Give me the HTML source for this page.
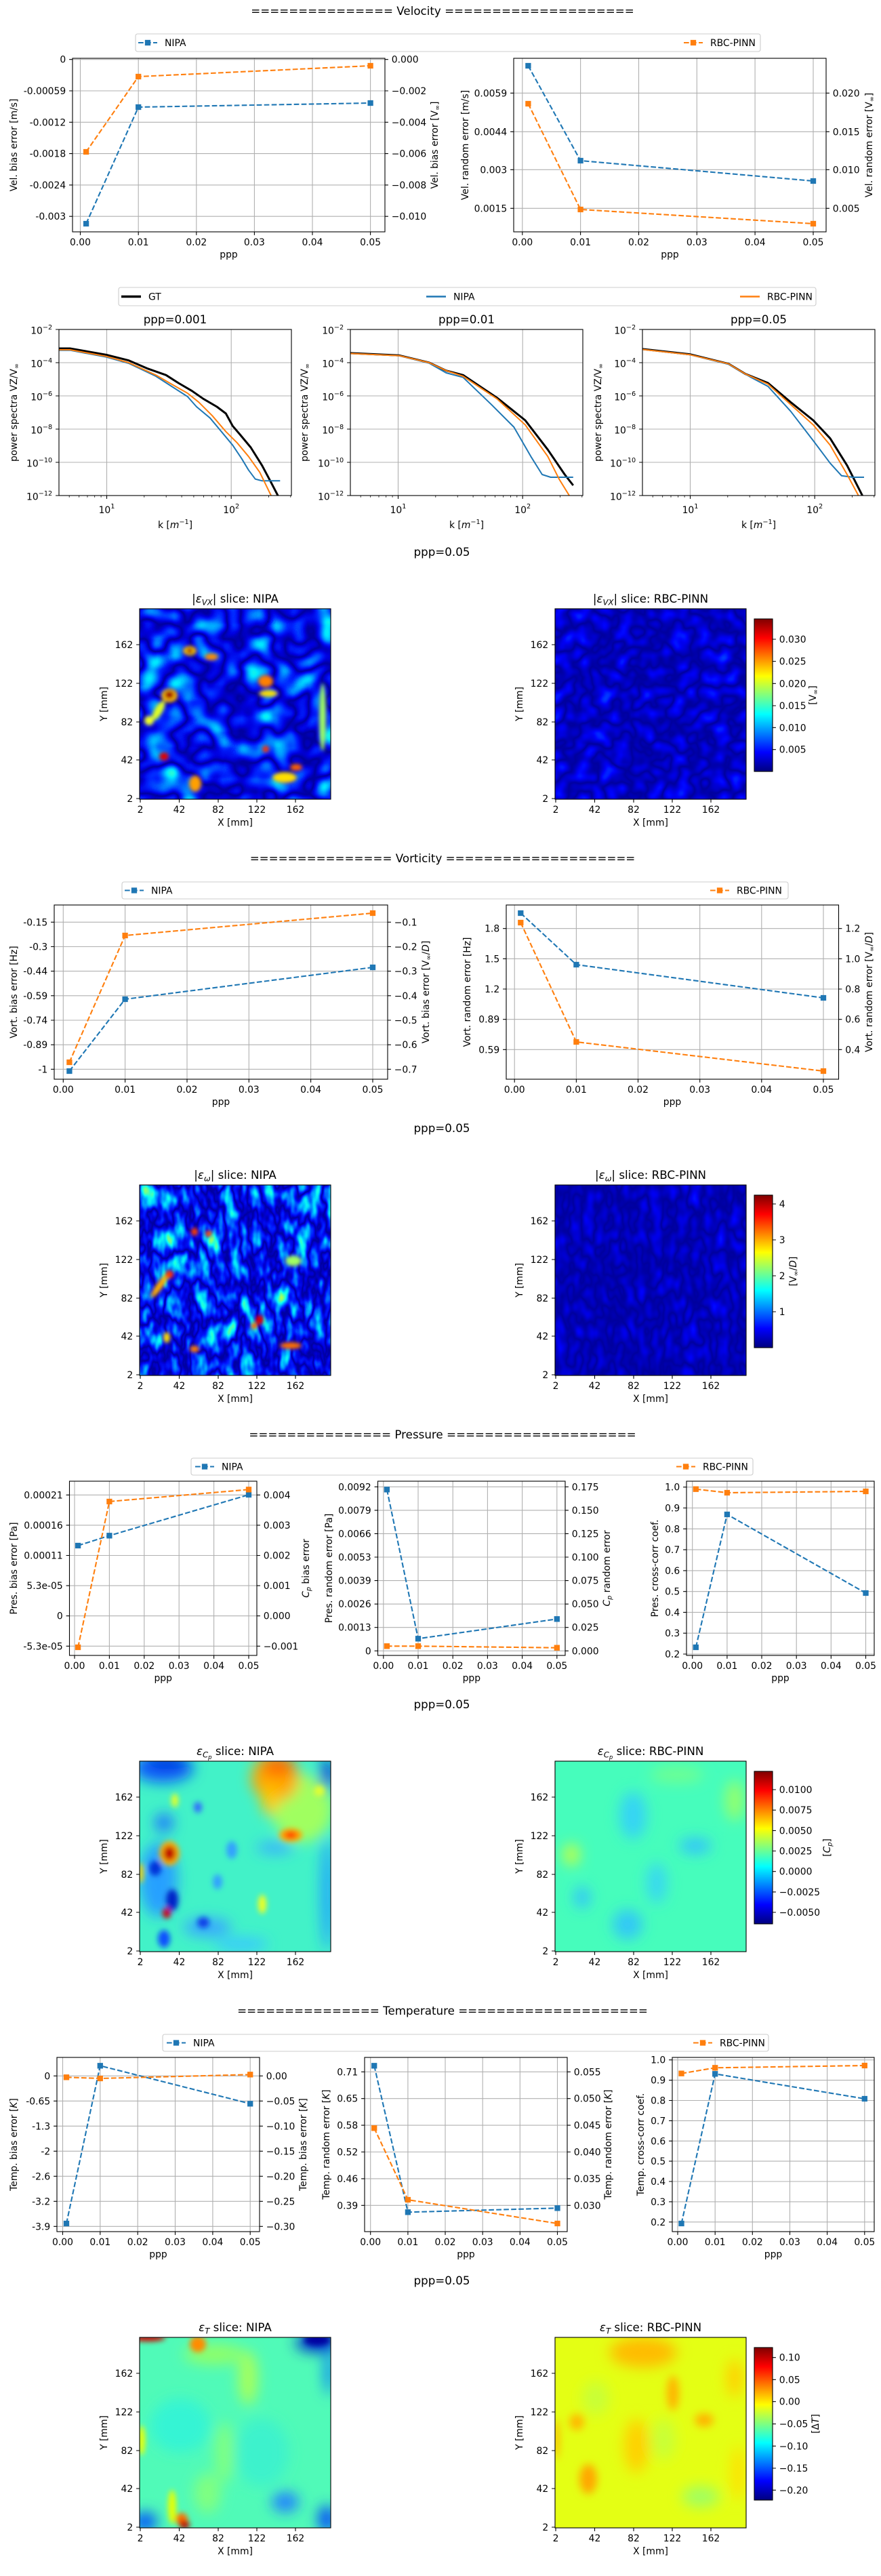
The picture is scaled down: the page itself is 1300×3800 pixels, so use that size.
<!DOCTYPE html>
<html><head><meta charset="utf-8"><title>Error analysis</title>
<style>
html,body{margin:0;padding:0;background:#fff;}
svg{display:block}
svg text{font-family:"DejaVu Sans","Liberation Sans",sans-serif;font-size:13.9px;fill:#000}
.tt{font-size:16.7px}
.g{stroke:#b0b0b0;stroke-width:1.1;fill:none}
.sp{stroke:#000;stroke-width:1.1;fill:none}
.tk{stroke:#000;stroke-width:1.1;fill:none}
.mt{stroke:#000;stroke-width:0.8;fill:none}
.lb{stroke:#1f77b4;stroke-width:2.1;fill:none;stroke-dasharray:7.7 3.3}
.lo{stroke:#ff7f0e;stroke-width:2.1;fill:none;stroke-dasharray:7.7 3.3}
.mb{fill:#1f77b4}
.mo{fill:#ff7f0e}
.lg{fill:#fff;fill-opacity:.8;stroke:#cccccc;stroke-width:1.1}
.e{text-anchor:end}
.m{text-anchor:middle}
.cgt{stroke:#000;stroke-width:3;fill:none;stroke-linejoin:round}
.cb{stroke:#1f77b4;stroke-width:2;fill:none;stroke-linejoin:round}
.co{stroke:#ff7f0e;stroke-width:2;fill:none;stroke-linejoin:round}
</style></head>
<body>
<svg width="1300" height="3800" viewBox="0 0 1300 3800" xmlns="http://www.w3.org/2000/svg">
<defs>
<linearGradient id="jet" x1="0" y1="1" x2="0" y2="0">
<stop offset="0" stop-color="#00007f"/><stop offset="0.125" stop-color="#0000ff"/><stop offset="0.375" stop-color="#00ffff"/><stop offset="0.625" stop-color="#ffff00"/><stop offset="0.875" stop-color="#ff0000"/><stop offset="1" stop-color="#7f0000"/>
</linearGradient>
<clipPath id="cps"><rect x="0" y="0" width="343" height="245"/></clipPath>
<filter id="b3" x="-50%" y="-50%" width="200%" height="200%"><feGaussianBlur stdDeviation="3"/></filter>
<filter id="b4" x="-50%" y="-50%" width="200%" height="200%"><feGaussianBlur stdDeviation="4"/></filter>
<filter id="b6" x="-50%" y="-50%" width="200%" height="200%"><feGaussianBlur stdDeviation="6"/></filter>
<filter id="b10" x="-50%" y="-50%" width="200%" height="200%"><feGaussianBlur stdDeviation="10"/></filter>
<filter id="fvn" x="0" y="0" width="1" height="1" color-interpolation-filters="sRGB">
<feTurbulence type="fractalNoise" baseFrequency="0.02 0.022" numOctaves="2" seed="7"/>
<feColorMatrix type="matrix" values="1 0 0 0 0 1 0 0 0 0 1 0 0 0 0 0 0 0 0 1"/>
<feComponentTransfer>
<feFuncR type="table" tableValues="1 .96 .7 .44 .18 0 0 0 0 0 0 0 0 0 0 0 .18 .44 .7 .96 1"/>
<feFuncG type="table" tableValues=".78 1 1 1 1 .92 .66 .4 .14 0 0 0 .14 .4 .66 .92 1 1 1 1 .78"/>
<feFuncB type="table" tableValues="0 .04 .3 .56 .82 1 1 1 1 .88 .62 .88 1 1 1 1 .82 .56 .3 .04 0"/>
</feComponentTransfer></filter>
<filter id="fvr" x="0" y="0" width="1" height="1" color-interpolation-filters="sRGB">
<feTurbulence type="fractalNoise" baseFrequency="0.035" numOctaves="2" seed="11"/>
<feColorMatrix type="matrix" values="1 0 0 0 0 1 0 0 0 0 1 0 0 0 0 0 0 0 0 1"/>
<feComponentTransfer>
<feFuncR type="table" tableValues="0 0"/>
<feFuncG type="table" tableValues=".42 .34 .26 .18 .1 .02 0 0 0 0 0 0 0 0 0 .02 .1 .18 .26 .34 .42"/>
<feFuncB type="table" tableValues="1 1 1 1 1 1 .94 .86 .78 .7 .62 .7 .78 .86 .94 1 1 1 1 1 1"/>
</feComponentTransfer></filter>
<filter id="fwn" x="0" y="0" width="1" height="1" color-interpolation-filters="sRGB">
<feTurbulence type="fractalNoise" baseFrequency="0.04 0.02" numOctaves="3" seed="5"/>
<feColorMatrix type="matrix" values="1 0 0 0 0 1 0 0 0 0 1 0 0 0 0 0 0 0 0 1"/>
<feComponentTransfer>
<feFuncR type="table" tableValues="1 .78 .54 .3 .06 0 0 0 0 0 0 0 0 0 0 0 .06 .3 .54 .78 1"/>
<feFuncG type="table" tableValues=".98 1 1 1 1 .82 .58 .34 .1 0 0 0 .1 .34 .58 .82 1 1 1 1 .98"/>
<feFuncB type="table" tableValues="0 .22 .46 .7 .94 1 1 1 1 .86 .62 .86 1 1 1 1 .94 .7 .46 .22 0"/>
</feComponentTransfer></filter>
<filter id="fwr" x="0" y="0" width="1" height="1" color-interpolation-filters="sRGB">
<feTurbulence type="fractalNoise" baseFrequency="0.05 0.03" numOctaves="2" seed="13"/>
<feColorMatrix type="matrix" values="1 0 0 0 0 1 0 0 0 0 1 0 0 0 0 0 0 0 0 1"/>
<feComponentTransfer>
<feFuncR type="table" tableValues="0 0"/>
<feFuncG type="table" tableValues=".22 .16 .1 .04 0 0 0 0 0 0 0 0 0 0 0 0 0 .04 .1 .16 .22"/>
<feFuncB type="table" tableValues="1 1 1 1 .98 .92 .86 .8 .74 .68 .62 .68 .74 .8 .86 .92 .98 1 1 1 1"/>
</feComponentTransfer></filter>
</defs>
<rect x="0" y="0" width="1300" height="3800" fill="#fff"/>

<!-- ================= VELOCITY ================= -->
<text class="tt m" x="653" y="22">=============== Velocity ====================</text>
<rect class="lg" x="200" y="50" width="922" height="26" rx="3"/>
<path class="lb" d="M204 63H232"/><path class="mb" d="M213.85 58.85h8.3v8.3h-8.3z"/><text x="243" y="68">NIPA</text>
<path class="lo" d="M1009 63H1037"/><path class="mo" d="M1018.85 58.85h8.3v8.3h-8.3z"/><text x="1048" y="68">RBC-PINN</text>

<!-- Vel A -->
<path class="g" d="M118.5 86V342M204.2 86V342M289.8 86V342M375.4 86V342M461 86V342M546.6 86V342M107 87.7H568M107 134H568M107 180.3H568M107 226.6H568M107 272.9H568M107 319.2H568"/>
<path class="lb" d="M127.1 330L204.2 158L546.6 152"/>
<path class="lo" d="M127.1 224L204.2 113L546.6 97"/>
<path class="mb" d="M122.95 325.85h8.3v8.3h-8.3zM200.05 153.85h8.3v8.3h-8.3zM542.45 147.85h8.3v8.3h-8.3z"/>
<path class="mo" d="M122.95 219.85h8.3v8.3h-8.3zM200.05 108.85h8.3v8.3h-8.3zM542.45 92.85h8.3v8.3h-8.3z"/>
<rect class="sp" x="107" y="86" width="461" height="256"/>
<path class="tk" d="M102.1 87.7H107M102.1 134H107M102.1 180.3H107M102.1 226.6H107M102.1 272.9H107M102.1 319.2H107M568 87.7H572.9M568 134H572.9M568 180.3H572.9M568 226.6H572.9M568 272.9H572.9M568 319.2H572.9M118.5 342V346.9M204.2 342V346.9M289.8 342V346.9M375.4 342V346.9M461 342V346.9M546.6 342V346.9"/>
<g class="e"><text x="97.2" y="92.7">0</text><text x="97.2" y="139">-0.00059</text><text x="97.2" y="185.3">-0.0012</text><text x="97.2" y="231.6">-0.0018</text><text x="97.2" y="277.9">-0.0024</text><text x="97.2" y="324.2">-0.003</text></g>
<g><text x="577.8" y="92.7">0.000</text><text x="577.8" y="139">−0.002</text><text x="577.8" y="185.3">−0.004</text><text x="577.8" y="231.6">−0.006</text><text x="577.8" y="277.9">−0.008</text><text x="577.8" y="324.2">−0.010</text></g>
<g class="m"><text x="118.5" y="362">0.00</text><text x="204.2" y="362">0.01</text><text x="289.8" y="362">0.02</text><text x="375.4" y="362">0.03</text><text x="461" y="362">0.04</text><text x="546.6" y="362">0.05</text><text x="337.5" y="380">ppp</text></g>
<text class="m" transform="translate(25 214) rotate(-90)">Vel. bias error [m/s]</text>
<text class="m" transform="translate(646 214) rotate(-90)">Vel. bias error [V<tspan font-size="9.7" dy="2.5">∞</tspan><tspan dy="-2.5">]</tspan></text>

<!-- Vel B -->
<path class="g" d="M770.8 86V342M856.6 86V342M942.5 86V342M1028.3 86V342M1114.1 86V342M1200 86V342M758 137.3H1219M758 194.3H1219M758 250.3H1219M758 307.3H1219"/>
<path class="lb" d="M779.4 97L856.6 237L1200 267"/>
<path class="lo" d="M779.4 153L856.6 309L1200 330"/>
<path class="mb" d="M775.25 92.85h8.3v8.3h-8.3zM852.45 232.85h8.3v8.3h-8.3zM1195.85 262.85h8.3v8.3h-8.3z"/>
<path class="mo" d="M775.25 148.85h8.3v8.3h-8.3zM852.45 304.85h8.3v8.3h-8.3zM1195.85 325.85h8.3v8.3h-8.3z"/>
<rect class="sp" x="758" y="86" width="461" height="256"/>
<path class="tk" d="M753.1 137.3H758M753.1 194.3H758M753.1 250.3H758M753.1 307.3H758M1219 137.3H1223.9M1219 194.3H1223.9M1219 250.3H1223.9M1219 307.3H1223.9M770.8 342V346.9M856.6 342V346.9M942.5 342V346.9M1028.3 342V346.9M1114.1 342V346.9M1200 342V346.9"/>
<g class="e"><text x="748.2" y="142.3">0.0059</text><text x="748.2" y="199.3">0.0044</text><text x="748.2" y="255.3">0.003</text><text x="748.2" y="312.3">0.0015</text></g>
<g><text x="1228.8" y="142.3">0.020</text><text x="1228.8" y="199.3">0.015</text><text x="1228.8" y="255.3">0.010</text><text x="1228.8" y="312.3">0.005</text></g>
<g class="m"><text x="770.8" y="362">0.00</text><text x="856.6" y="362">0.01</text><text x="942.5" y="362">0.02</text><text x="1028.3" y="362">0.03</text><text x="1114.1" y="362">0.04</text><text x="1200" y="362">0.05</text><text x="988.5" y="380">ppp</text></g>
<text class="m" transform="translate(691 214) rotate(-90)">Vel. random error [m/s]</text>
<text class="m" transform="translate(1287 214) rotate(-90)">Vel. random error [V<tspan font-size="9.7" dy="2.5">∞</tspan><tspan dy="-2.5">]</tspan></text>

<!-- ================= SPECTRA ================= -->
<rect class="lg" x="175" y="424" width="1029" height="27" rx="3"/>
<path d="M179 437.5H208" stroke="#000" stroke-width="3.5"/><text x="219" y="442.5">GT</text>
<path d="M629 437.5H658" stroke="#1f77b4" stroke-width="2.5"/><text x="669" y="442.5">NIPA</text>
<path d="M1092 437.5H1121" stroke="#ff7f0e" stroke-width="2.5"/><text x="1132" y="442.5">RBC-PINN</text>

<!-- S1 -->
<text class="tt m" x="258.5" y="477">ppp=0.001</text>
<path class="g" d="M157.5 486V731M341.2 486V731M87 535H430M87 584H430M87 633H430M87 682H430"/>
<g transform="translate(87 486)" clip-path="url(#cps)">
<polyline class="cgt" points="-5,28 16.3,28 69.7,37.3 103,45.7 129.7,57.3 158,67.3 176.3,79 196.3,90.7 213,102.3 233,114 246.3,124 256.3,142.3 266.3,154 283,174 299.7,200.7 313,225.7 323,245 325,252"/>
<polyline class="cb" points="-5,30.7 16.3,30.7 69.7,40.7 103,50 143,69 166.3,84 189.7,99 203,114 223,130.7 239.7,150.7 256.3,170.7 269.7,190.7 279.7,207.3 289.7,220.7 299.7,223.3 326.3,223.3"/>
<polyline class="co" points="-5,30 16.3,30 69.7,39.7 103,49 143,67.3 166.3,80.7 189.7,94 206.3,107.3 226.3,127.3 246.3,150.7 263,167.3 279.7,187.3 296.3,210.7 313,245 315,252"/>
</g>
<rect class="sp" x="87" y="486" width="343" height="245"/>
<path class="tk" d="M82.1 486H87M82.1 535H87M82.1 584H87M82.1 633H87M82.1 682H87M82.1 731H87M157.5 731V735.9M341.2 731V735.9"/>
<path class="mt" d="M102.2 731V733.8M116.7 731V733.8M129 731V733.8M139.7 731V733.8M149.1 731V733.8M212.8 731V733.8M245.2 731V733.8M268.1 731V733.8M285.9 731V733.8M300.4 731V733.8M312.7 731V733.8M323.4 731V733.8M332.8 731V733.8M396.5 731V733.8M428.8 731V733.8"/>
<g class="e"><text x="77.2" y="492.5">10<tspan font-size="9.7" dy="-6.5">−2</tspan></text><text x="77.2" y="541.5">10<tspan font-size="9.7" dy="-6.5">−4</tspan></text><text x="77.2" y="590.5">10<tspan font-size="9.7" dy="-6.5">−6</tspan></text><text x="77.2" y="639.5">10<tspan font-size="9.7" dy="-6.5">−8</tspan></text><text x="77.2" y="688.5">10<tspan font-size="9.7" dy="-6.5">−10</tspan></text><text x="77.2" y="737.5">10<tspan font-size="9.7" dy="-6.5">−12</tspan></text></g>
<g class="m"><text x="157.5" y="757">10<tspan font-size="9.7" dy="-7">1</tspan></text><text x="341.2" y="757">10<tspan font-size="9.7" dy="-7">2</tspan></text>
<text x="258.5" y="779">k [<tspan font-style="italic">m</tspan><tspan font-size="9.7" dy="-6">−1</tspan><tspan dy="6">]</tspan></text></g>
<text class="m" transform="translate(25 608.5) rotate(-90)">power spectra VZ/V<tspan font-size="9.7" dy="2.5">∞</tspan></text>

<!-- S2 -->
<text class="tt m" x="688.5" y="477">ppp=0.01</text>
<path class="g" d="M587.5 486V731M771.2 486V731M517 535H860M517 584H860M517 633H860M517 682H860"/>
<g transform="translate(517 486)" clip-path="url(#cps)">
<polyline class="cgt" points="-5,34.7 72.2,38.3 116.3,49 141.3,60.7 166.3,67.3 216.3,100.7 258,134 291.3,177.3 316.3,214 328.8,230"/>
<polyline class="cb" points="-5,35.3 72.2,38.7 116.3,49.7 141.3,64 166.3,70.7 208,110.7 241.3,144 266.3,187.3 283,214 295.5,218 328.8,218"/>
<polyline class="co" points="-5,35.3 72.2,38.7 116.3,49 141.3,60.7 166.3,69 216.3,102.3 258,140.7 291.3,187.3 308,220.7 323,245 325,252"/>
</g>
<rect class="sp" x="517" y="486" width="343" height="245"/>
<path class="tk" d="M512.1 486H517M512.1 535H517M512.1 584H517M512.1 633H517M512.1 682H517M512.1 731H517M587.5 731V735.9M771.2 731V735.9"/>
<path class="mt" d="M532.2 731V733.8M546.7 731V733.8M559 731V733.8M569.7 731V733.8M579.1 731V733.8M642.8 731V733.8M675.2 731V733.8M698.1 731V733.8M715.9 731V733.8M730.4 731V733.8M742.7 731V733.8M753.4 731V733.8M762.8 731V733.8M826.5 731V733.8M858.8 731V733.8"/>
<g class="e"><text x="507.2" y="492.5">10<tspan font-size="9.7" dy="-6.5">−2</tspan></text><text x="507.2" y="541.5">10<tspan font-size="9.7" dy="-6.5">−4</tspan></text><text x="507.2" y="590.5">10<tspan font-size="9.7" dy="-6.5">−6</tspan></text><text x="507.2" y="639.5">10<tspan font-size="9.7" dy="-6.5">−8</tspan></text><text x="507.2" y="688.5">10<tspan font-size="9.7" dy="-6.5">−10</tspan></text><text x="507.2" y="737.5">10<tspan font-size="9.7" dy="-6.5">−12</tspan></text></g>
<g class="m"><text x="587.5" y="757">10<tspan font-size="9.7" dy="-7">1</tspan></text><text x="771.2" y="757">10<tspan font-size="9.7" dy="-7">2</tspan></text>
<text x="688.5" y="779">k [<tspan font-style="italic">m</tspan><tspan font-size="9.7" dy="-6">−1</tspan><tspan dy="6">]</tspan></text></g>
<text class="m" transform="translate(454 608.5) rotate(-90)">power spectra VZ/V<tspan font-size="9.7" dy="2.5">∞</tspan></text>

<!-- S3 -->
<text class="tt m" x="1119.5" y="477">ppp=0.05</text>
<path class="g" d="M1018.5 486V731M1202.2 486V731M948 535H1291M948 584H1291M948 633H1291M948 682H1291"/>
<g transform="translate(948 486)" clip-path="url(#cps)">
<polyline class="cgt" points="-5,28.3 70.3,36.7 127,50.7 152,65.7 185.3,79 218.7,107.3 252,134 277,160.7 302,200.7 324.5,245 326,252"/>
<polyline class="cb" points="-5,29 70.3,37.3 127,51.3 160.3,70.7 185.3,84 218.7,120.7 252,164 277,197.3 293.7,215.7 310.3,218 327,218"/>
<polyline class="co" points="-5,29 70.3,37.3 127,50.7 152,65.7 185.3,80.7 218.7,110.7 252,140.7 277,170.7 302,214 318.7,245 320,252"/>
</g>
<rect class="sp" x="948" y="486" width="343" height="245"/>
<path class="tk" d="M943.1 486H948M943.1 535H948M943.1 584H948M943.1 633H948M943.1 682H948M943.1 731H948M1018.5 731V735.9M1202.2 731V735.9"/>
<path class="mt" d="M963.2 731V733.8M977.7 731V733.8M990 731V733.8M1000.7 731V733.8M1010.1 731V733.8M1073.8 731V733.8M1106.2 731V733.8M1129.1 731V733.8M1146.9 731V733.8M1161.4 731V733.8M1173.7 731V733.8M1184.4 731V733.8M1193.8 731V733.8M1257.5 731V733.8M1289.8 731V733.8"/>
<g class="e"><text x="938.2" y="492.5">10<tspan font-size="9.7" dy="-6.5">−2</tspan></text><text x="938.2" y="541.5">10<tspan font-size="9.7" dy="-6.5">−4</tspan></text><text x="938.2" y="590.5">10<tspan font-size="9.7" dy="-6.5">−6</tspan></text><text x="938.2" y="639.5">10<tspan font-size="9.7" dy="-6.5">−8</tspan></text><text x="938.2" y="688.5">10<tspan font-size="9.7" dy="-6.5">−10</tspan></text><text x="938.2" y="737.5">10<tspan font-size="9.7" dy="-6.5">−12</tspan></text></g>
<g class="m"><text x="1018.5" y="757">10<tspan font-size="9.7" dy="-7">1</tspan></text><text x="1202.2" y="757">10<tspan font-size="9.7" dy="-7">2</tspan></text>
<text x="1119.5" y="779">k [<tspan font-style="italic">m</tspan><tspan font-size="9.7" dy="-6">−1</tspan><tspan dy="6">]</tspan></text></g>
<text class="m" transform="translate(887 608.5) rotate(-90)">power spectra VZ/V<tspan font-size="9.7" dy="2.5">∞</tspan></text>

<!-- ================= VELOCITY SLICES (off 0) ================= -->
<g>
<text class="tt m" x="652" y="820">ppp=0.05</text>
<text class="tt m" x="347" y="889">|<tspan font-style="italic">ε</tspan><tspan font-size="11.7" dy="3.5" font-style="italic">VX</tspan><tspan dy="-3.5">| slice: NIPA</tspan></text>
<text class="tt m" x="960" y="889">|<tspan font-style="italic">ε</tspan><tspan font-size="11.7" dy="3.5" font-style="italic">VX</tspan><tspan dy="-3.5">| slice: RBC-PINN</tspan></text>
<svg x="206" y="898" width="282" height="281" viewBox="0 0 282 281">
<rect x="0" y="0" width="282" height="281" filter="url(#fvn)"/>
<g filter="url(#b3)">
<ellipse cx="74" cy="62" rx="10" ry="7" fill="#ffd000"/><ellipse cx="74" cy="62" rx="5" ry="4" fill="#a00000"/>
<ellipse cx="106" cy="71" rx="10" ry="5" fill="#ff9000"/>
<ellipse cx="44" cy="128" rx="12" ry="10" fill="#ffc000"/><ellipse cx="44" cy="127" rx="7" ry="6" fill="#a00000"/>
<ellipse cx="28" cy="150" rx="6" ry="16" fill="#e0ff20" transform="rotate(30 28 150)"/>
<ellipse cx="186" cy="107" rx="11" ry="9" fill="#ff8000"/><ellipse cx="190" cy="125" rx="14" ry="5" fill="#ffe000"/>
<ellipse cx="186" cy="207" rx="5" ry="5" fill="#ff3000"/>
<ellipse cx="214" cy="249" rx="18" ry="8" fill="#ffe000"/><ellipse cx="231" cy="234" rx="9" ry="5" fill="#ff6000"/>
<ellipse cx="82" cy="258" rx="9" ry="12" fill="#ffa000"/>
<ellipse cx="36" cy="218" rx="7" ry="6" fill="#e00000"/>
<ellipse cx="14" cy="165" rx="7" ry="7" fill="#f0ff20"/>
<ellipse cx="270" cy="160" rx="5" ry="50" fill="#a0ff60"/>
</g>
</svg>
<svg x="819" y="898" width="282" height="281" viewBox="0 0 282 281">
<rect x="0" y="0" width="282" height="281" filter="url(#fvr)"/>
</svg>
<rect class="sp" x="206" y="898" width="282" height="281"/>
<rect class="sp" x="819" y="898" width="282" height="281"/>
<path class="tk" d="M201.1 951H206M201.1 1008H206M201.1 1065H206M201.1 1121H206M201.1 1178H206M814.1 951H819M814.1 1008H819M814.1 1065H819M814.1 1121H819M814.1 1178H819M207 1179V1183.9M264.5 1179V1183.9M322 1179V1183.9M379 1179V1183.9M436 1179V1183.9M820 1179V1183.9M877.5 1179V1183.9M935 1179V1183.9M992 1179V1183.9M1049 1179V1183.9"/>
<g class="e"><text x="196.2" y="956">162</text><text x="196.2" y="1013">122</text><text x="196.2" y="1070">82</text><text x="196.2" y="1126">42</text><text x="196.2" y="1183">2</text>
<text x="809.2" y="956">162</text><text x="809.2" y="1013">122</text><text x="809.2" y="1070">82</text><text x="809.2" y="1126">42</text><text x="809.2" y="1183">2</text></g>
<g class="m"><text x="207" y="1199">2</text><text x="264.5" y="1199">42</text><text x="322" y="1199">82</text><text x="379" y="1199">122</text><text x="436" y="1199">162</text>
<text x="820" y="1199">2</text><text x="877.5" y="1199">42</text><text x="935" y="1199">82</text><text x="992" y="1199">122</text><text x="1049" y="1199">162</text>
<text x="347" y="1218">X [mm]</text><text x="960" y="1218">X [mm]</text></g>
<text class="m" transform="translate(158 1038.5) rotate(-90)">Y [mm]</text>
<text class="m" transform="translate(771 1038.5) rotate(-90)">Y [mm]</text>
<rect x="1113" y="913" width="27" height="225" fill="url(#jet)" stroke="#000" stroke-width="1.1"/>
<path class="tk" d="M1140 943H1144.9M1140 975.5H1144.9M1140 1008.3H1144.9M1140 1041H1144.9M1140 1073.3H1144.9M1140 1105.7H1144.9"/>
<g><text x="1149.8" y="948">0.030</text><text x="1149.8" y="980.5">0.025</text><text x="1149.8" y="1013.3">0.020</text><text x="1149.8" y="1046">0.015</text><text x="1149.8" y="1078.3">0.010</text><text x="1149.8" y="1110.7">0.005</text></g>
<text class="m" transform="translate(1204 1025.5) rotate(-90)">[V<tspan font-size="9.7" dy="2.5">∞</tspan><tspan dy="-2.5">]</tspan></text>
</g>

<!-- ================= VORTICITY ================= -->
<text class="tt m" x="653" y="1272">=============== Vorticity ====================</text>
<rect class="lg" x="180" y="1301" width="983" height="25" rx="3"/>
<path class="lb" d="M184 1313.5H212"/><path class="mb" d="M193.85 1309.35h8.3v8.3h-8.3z"/><text x="223" y="1318.5">NIPA</text>
<path class="lo" d="M1048 1313.5H1076"/><path class="mo" d="M1057.85 1309.35h8.3v8.3h-8.3z"/><text x="1087" y="1318.5">RBC-PINN</text>

<!-- Vort A -->
<path class="g" d="M93.3 1335V1592M184.6 1335V1592M276 1335V1592M367.3 1335V1592M458.6 1335V1592M550 1335V1592M80 1360.3H572M80 1396.5H572M80 1432.6H572M80 1468.8H572M80 1505H572M80 1541.2H572M80 1577.3H572"/>
<path class="lb" d="M102.4 1580L184.6 1474L550 1427"/>
<path class="lo" d="M102.4 1567L184.6 1380L550 1347"/>
<path class="mb" d="M98.25 1575.85h8.3v8.3h-8.3zM180.45 1469.85h8.3v8.3h-8.3zM545.85 1422.85h8.3v8.3h-8.3z"/>
<path class="mo" d="M98.25 1562.85h8.3v8.3h-8.3zM180.45 1375.85h8.3v8.3h-8.3zM545.85 1342.85h8.3v8.3h-8.3z"/>
<rect class="sp" x="80" y="1335" width="492" height="257"/>
<path class="tk" d="M75.1 1360.3H80M75.1 1396.5H80M75.1 1432.6H80M75.1 1468.8H80M75.1 1505H80M75.1 1541.2H80M75.1 1577.3H80M572 1360.3H576.9M572 1396.5H576.9M572 1432.6H576.9M572 1468.8H576.9M572 1505H576.9M572 1541.2H576.9M572 1577.3H576.9M93.3 1592V1596.9M184.6 1592V1596.9M276 1592V1596.9M367.3 1592V1596.9M458.6 1592V1596.9M550 1592V1596.9"/>
<g class="e"><text x="70.2" y="1365.3">-0.15</text><text x="70.2" y="1401.5">-0.3</text><text x="70.2" y="1437.6">-0.44</text><text x="70.2" y="1473.8">-0.59</text><text x="70.2" y="1510">-0.74</text><text x="70.2" y="1546.2">-0.89</text><text x="70.2" y="1582.3">-1</text></g>
<g><text x="581.8" y="1365.3">−0.1</text><text x="581.8" y="1401.5">−0.2</text><text x="581.8" y="1437.6">−0.3</text><text x="581.8" y="1473.8">−0.4</text><text x="581.8" y="1510">−0.5</text><text x="581.8" y="1546.2">−0.6</text><text x="581.8" y="1582.3">−0.7</text></g>
<g class="m"><text x="93.3" y="1612">0.00</text><text x="184.6" y="1612">0.01</text><text x="276" y="1612">0.02</text><text x="367.3" y="1612">0.03</text><text x="458.6" y="1612">0.04</text><text x="550" y="1612">0.05</text><text x="326" y="1630">ppp</text></g>
<text class="m" transform="translate(25 1463.5) rotate(-90)">Vort. bias error [Hz]</text>
<text class="m" transform="translate(633 1463.5) rotate(-90)">Vort. bias error [V<tspan font-size="9.7" dy="2.5">∞</tspan><tspan dy="-2.5">/</tspan><tspan font-style="italic">D</tspan>]</text>

<!-- Vort B -->
<path class="g" d="M759.2 1335V1592M850.4 1335V1592M941.5 1335V1592M1032.7 1335V1592M1123.8 1335V1592M1215 1335V1592M747 1369.7H1237.5M747 1414.3H1237.5M747 1459H1237.5M747 1503.7H1237.5M747 1548.3H1237.5"/>
<path class="lb" d="M768.3 1347L850.4 1423L1215 1472"/>
<path class="lo" d="M768.3 1361L850.4 1537L1215 1580"/>
<path class="mb" d="M764.15 1342.85h8.3v8.3h-8.3zM846.25 1418.85h8.3v8.3h-8.3zM1210.85 1467.85h8.3v8.3h-8.3z"/>
<path class="mo" d="M764.15 1356.85h8.3v8.3h-8.3zM846.25 1532.85h8.3v8.3h-8.3zM1210.85 1575.85h8.3v8.3h-8.3z"/>
<rect class="sp" x="747" y="1335" width="490.5" height="257"/>
<path class="tk" d="M742.1 1369.7H747M742.1 1414.3H747M742.1 1459H747M742.1 1503.7H747M742.1 1548.3H747M1237.5 1369.7H1242.4M1237.5 1414.3H1242.4M1237.5 1459H1242.4M1237.5 1503.7H1242.4M1237.5 1548.3H1242.4M759.2 1592V1596.9M850.4 1592V1596.9M941.5 1592V1596.9M1032.7 1592V1596.9M1123.8 1592V1596.9M1215 1592V1596.9"/>
<g class="e"><text x="737.2" y="1374.7">1.8</text><text x="737.2" y="1419.3">1.5</text><text x="737.2" y="1464">1.2</text><text x="737.2" y="1508.7">0.89</text><text x="737.2" y="1553.3">0.59</text></g>
<g><text x="1247.3" y="1374.7">1.2</text><text x="1247.3" y="1419.3">1.0</text><text x="1247.3" y="1464">0.8</text><text x="1247.3" y="1508.7">0.6</text><text x="1247.3" y="1553.3">0.4</text></g>
<g class="m"><text x="759.2" y="1612">0.00</text><text x="850.4" y="1612">0.01</text><text x="941.5" y="1612">0.02</text><text x="1032.7" y="1612">0.03</text><text x="1123.8" y="1612">0.04</text><text x="1215" y="1612">0.05</text><text x="992" y="1630">ppp</text></g>
<text class="m" transform="translate(694 1463.5) rotate(-90)">Vort. random error [Hz]</text>
<text class="m" transform="translate(1287 1463.5) rotate(-90)">Vort. random error [V<tspan font-size="9.7" dy="2.5">∞</tspan><tspan dy="-2.5">/</tspan><tspan font-style="italic">D</tspan>]</text>

<!-- ================= VORTICITY SLICES (off 850) ================= -->
<g transform="translate(0 850)">
<text class="tt m" x="652" y="820">ppp=0.05</text>
<text class="tt m" x="347" y="889">|<tspan font-style="italic">ε</tspan><tspan font-size="11.7" dy="3.5" font-style="italic">ω</tspan><tspan dy="-3.5">| slice: NIPA</tspan></text>
<text class="tt m" x="960" y="889">|<tspan font-style="italic">ε</tspan><tspan font-size="11.7" dy="3.5" font-style="italic">ω</tspan><tspan dy="-3.5">| slice: RBC-PINN</tspan></text>
<svg x="206" y="898" width="282" height="281" viewBox="0 0 282 281">
<rect x="0" y="0" width="282" height="281" filter="url(#fwn)"/>
<g filter="url(#b3)">
<ellipse cx="30" cy="148" rx="5" ry="22" fill="#ffb000" transform="rotate(35 30 148)"/>
<ellipse cx="44" cy="132" rx="6" ry="6" fill="#ff3000"/>
<ellipse cx="81" cy="69" rx="5" ry="6" fill="#ff4000"/><ellipse cx="102" cy="72" rx="5" ry="5" fill="#ff5000"/>
<ellipse cx="177" cy="199" rx="6" ry="7" fill="#e00000"/><ellipse cx="169" cy="208" rx="5" ry="5" fill="#ff6000"/>
<ellipse cx="81" cy="242" rx="7" ry="5" fill="#ff8000"/>
<ellipse cx="223" cy="237" rx="16" ry="5" fill="#ff7000"/>
<ellipse cx="40" cy="225" rx="5" ry="8" fill="#ffe000"/>
<ellipse cx="227" cy="112" rx="12" ry="8" fill="#a0ff60"/>
</g>
</svg>
<svg x="819" y="898" width="282" height="281" viewBox="0 0 282 281">
<rect x="0" y="0" width="282" height="281" filter="url(#fwr)"/>
</svg>
<rect class="sp" x="206" y="898" width="282" height="281"/>
<rect class="sp" x="819" y="898" width="282" height="281"/>
<path class="tk" d="M201.1 951H206M201.1 1008H206M201.1 1065H206M201.1 1121H206M201.1 1178H206M814.1 951H819M814.1 1008H819M814.1 1065H819M814.1 1121H819M814.1 1178H819M207 1179V1183.9M264.5 1179V1183.9M322 1179V1183.9M379 1179V1183.9M436 1179V1183.9M820 1179V1183.9M877.5 1179V1183.9M935 1179V1183.9M992 1179V1183.9M1049 1179V1183.9"/>
<g class="e"><text x="196.2" y="956">162</text><text x="196.2" y="1013">122</text><text x="196.2" y="1070">82</text><text x="196.2" y="1126">42</text><text x="196.2" y="1183">2</text>
<text x="809.2" y="956">162</text><text x="809.2" y="1013">122</text><text x="809.2" y="1070">82</text><text x="809.2" y="1126">42</text><text x="809.2" y="1183">2</text></g>
<g class="m"><text x="207" y="1199">2</text><text x="264.5" y="1199">42</text><text x="322" y="1199">82</text><text x="379" y="1199">122</text><text x="436" y="1199">162</text>
<text x="820" y="1199">2</text><text x="877.5" y="1199">42</text><text x="935" y="1199">82</text><text x="992" y="1199">122</text><text x="1049" y="1199">162</text>
<text x="347" y="1218">X [mm]</text><text x="960" y="1218">X [mm]</text></g>
<text class="m" transform="translate(158 1038.5) rotate(-90)">Y [mm]</text>
<text class="m" transform="translate(771 1038.5) rotate(-90)">Y [mm]</text>
<rect x="1113" y="913" width="27" height="225" fill="url(#jet)" stroke="#000" stroke-width="1.1"/>
<path class="tk" d="M1140 926H1144.9M1140 979H1144.9M1140 1032H1144.9M1140 1085H1144.9"/>
<g><text x="1149.8" y="931">4</text><text x="1149.8" y="984">3</text><text x="1149.8" y="1037">2</text><text x="1149.8" y="1090">1</text></g>
<text class="m" transform="translate(1175 1025.5) rotate(-90)">[V<tspan font-size="9.7" dy="2.5">∞</tspan><tspan dy="-2.5">/</tspan><tspan font-style="italic">D</tspan>]</text>
</g>

<!-- ================= PRESSURE ================= -->
<text class="tt m" x="653" y="2122">=============== Pressure ====================</text>
<rect class="lg" x="282" y="2151" width="829" height="25" rx="3"/>
<path class="lb" d="M288 2163.5H316"/><path class="mb" d="M297.85 2159.35h8.3v8.3h-8.3z"/><text x="327" y="2168.5">NIPA</text>
<path class="lo" d="M998 2163.5H1026"/><path class="mo" d="M1007.85 2159.35h8.3v8.3h-8.3z"/><text x="1037" y="2168.5">RBC-PINN</text>

<!-- P1 -->
<path class="g" d="M110 2185V2442M161.4 2185V2442M212.8 2185V2442M264.2 2185V2442M315.6 2185V2442M367 2185V2442M102.5 2205.3H379M102.5 2249.9H379M102.5 2294.5H379M102.5 2339.1H379M102.5 2383.7H379M102.5 2428.3H379"/>
<path class="lb" d="M115.1 2280L161.4 2265.3L367 2205"/>
<path class="lo" d="M115.1 2430L161.4 2215L367 2197.3"/>
<path class="mb" d="M110.95 2275.85h8.3v8.3h-8.3zM157.25 2261.15h8.3v8.3h-8.3zM362.85 2200.85h8.3v8.3h-8.3z"/>
<path class="mo" d="M110.95 2425.85h8.3v8.3h-8.3zM157.25 2210.85h8.3v8.3h-8.3zM362.85 2193.15h8.3v8.3h-8.3z"/>
<rect class="sp" x="102.5" y="2185" width="276.5" height="257"/>
<path class="tk" d="M97.6 2205.3H102.5M97.6 2249.9H102.5M97.6 2294.5H102.5M97.6 2339.1H102.5M97.6 2383.7H102.5M97.6 2428.3H102.5M379 2205.3H383.9M379 2249.9H383.9M379 2294.5H383.9M379 2339.1H383.9M379 2383.7H383.9M379 2428.3H383.9M110 2442V2446.9M161.4 2442V2446.9M212.8 2442V2446.9M264.2 2442V2446.9M315.6 2442V2446.9M367 2442V2446.9"/>
<g class="e"><text x="92.7" y="2210.3">0.00021</text><text x="92.7" y="2254.9">0.00016</text><text x="92.7" y="2299.5">0.00011</text><text x="92.7" y="2344.1">5.3e-05</text><text x="92.7" y="2388.7">0</text><text x="92.7" y="2433.3">-5.3e-05</text></g>
<g><text x="388.8" y="2210.3">0.004</text><text x="388.8" y="2254.9">0.003</text><text x="388.8" y="2299.5">0.002</text><text x="388.8" y="2344.1">0.001</text><text x="388.8" y="2388.7">0.000</text><text x="388.8" y="2433.3">−0.001</text></g>
<g class="m"><text x="110" y="2462">0.00</text><text x="161.4" y="2462">0.01</text><text x="212.8" y="2462">0.02</text><text x="264.2" y="2462">0.03</text><text x="315.6" y="2462">0.04</text><text x="367" y="2462">0.05</text><text x="240.7" y="2480">ppp</text></g>
<text class="m" transform="translate(25 2313.5) rotate(-90)">Pres. bias error [Pa]</text>
<text class="m" transform="translate(456 2313.5) rotate(-90)"><tspan font-style="italic">C</tspan><tspan font-size="9.7" dy="2.5" font-style="italic">p</tspan><tspan dy="-2.5"> bias error</tspan></text>

<!-- P2 -->
<path class="g" d="M565.8 2185V2442M617 2185V2442M668.2 2185V2442M719.4 2185V2442M770.6 2185V2442M821.8 2185V2442M557.5 2193.3H834M557.5 2227.9H834M557.5 2262.4H834M557.5 2297H834M557.5 2331.6H834M557.5 2366.2H834M557.5 2400.7H834M557.5 2435.3H834"/>
<path class="lb" d="M570.9 2197.3L617 2417.3L821.8 2388.3"/>
<path class="lo" d="M570.9 2428.3L617 2428.3L821.8 2430.7"/>
<path class="mb" d="M566.75 2193.15h8.3v8.3h-8.3zM612.85 2413.15h8.3v8.3h-8.3zM817.65 2384.15h8.3v8.3h-8.3z"/>
<path class="mo" d="M566.75 2424.15h8.3v8.3h-8.3zM612.85 2424.15h8.3v8.3h-8.3zM817.65 2426.55h8.3v8.3h-8.3z"/>
<rect class="sp" x="557.5" y="2185" width="276.5" height="257"/>
<path class="tk" d="M552.6 2193.3H557.5M552.6 2227.9H557.5M552.6 2262.4H557.5M552.6 2297H557.5M552.6 2331.6H557.5M552.6 2366.2H557.5M552.6 2400.7H557.5M552.6 2435.3H557.5M834 2193.3H838.9M834 2227.9H838.9M834 2262.4H838.9M834 2297H838.9M834 2331.6H838.9M834 2366.2H838.9M834 2400.7H838.9M834 2435.3H838.9M565.8 2442V2446.9M617 2442V2446.9M668.2 2442V2446.9M719.4 2442V2446.9M770.6 2442V2446.9M821.8 2442V2446.9"/>
<g class="e"><text x="547.7" y="2198.3">0.0092</text><text x="547.7" y="2232.9">0.0079</text><text x="547.7" y="2267.4">0.0066</text><text x="547.7" y="2302">0.0053</text><text x="547.7" y="2336.6">0.0039</text><text x="547.7" y="2371.2">0.0026</text><text x="547.7" y="2405.7">0.0013</text><text x="547.7" y="2440.3">0</text></g>
<g><text x="843.8" y="2198.3">0.175</text><text x="843.8" y="2232.9">0.150</text><text x="843.8" y="2267.4">0.125</text><text x="843.8" y="2302">0.100</text><text x="843.8" y="2336.6">0.075</text><text x="843.8" y="2371.2">0.050</text><text x="843.8" y="2405.7">0.025</text><text x="843.8" y="2440.3">0.000</text></g>
<g class="m"><text x="565.8" y="2462">0.00</text><text x="617" y="2462">0.01</text><text x="668.2" y="2462">0.02</text><text x="719.4" y="2462">0.03</text><text x="770.6" y="2462">0.04</text><text x="821.8" y="2462">0.05</text><text x="695.8" y="2480">ppp</text></g>
<text class="m" transform="translate(490 2313.5) rotate(-90)">Pres. random error [Pa]</text>
<text class="m" transform="translate(900 2313.5) rotate(-90)"><tspan font-style="italic">C</tspan><tspan font-size="9.7" dy="2.5" font-style="italic">p</tspan><tspan dy="-2.5"> random error</tspan></text>

<!-- P3 -->
<path class="g" d="M1021.7 2185V2442M1072.9 2185V2442M1124 2185V2442M1175.2 2185V2442M1226.3 2185V2442M1277.5 2185V2442M1013 2193.7H1290M1013 2224.5H1290M1013 2255.3H1290M1013 2286.1H1290M1013 2316.9H1290M1013 2347.7H1290M1013 2378.4H1290M1013 2409.2H1290M1013 2440H1290"/>
<path class="lb" d="M1026.8 2430L1072.9 2234L1277.5 2350"/>
<path class="lo" d="M1026.8 2196.7L1072.9 2202L1277.5 2200"/>
<path class="mb" d="M1022.65 2425.85h8.3v8.3h-8.3zM1068.75 2229.85h8.3v8.3h-8.3zM1273.35 2345.85h8.3v8.3h-8.3z"/>
<path class="mo" d="M1022.65 2192.55h8.3v8.3h-8.3zM1068.75 2197.85h8.3v8.3h-8.3zM1273.35 2195.85h8.3v8.3h-8.3z"/>
<rect class="sp" x="1013" y="2185" width="277" height="257"/>
<path class="tk" d="M1008.1 2193.7H1013M1008.1 2224.5H1013M1008.1 2255.3H1013M1008.1 2286.1H1013M1008.1 2316.9H1013M1008.1 2347.7H1013M1008.1 2378.4H1013M1008.1 2409.2H1013M1008.1 2440H1013M1021.7 2442V2446.9M1072.9 2442V2446.9M1124 2442V2446.9M1175.2 2442V2446.9M1226.3 2442V2446.9M1277.5 2442V2446.9"/>
<g class="e"><text x="1003.2" y="2198.7">1.0</text><text x="1003.2" y="2229.5">0.9</text><text x="1003.2" y="2260.3">0.8</text><text x="1003.2" y="2291.1">0.7</text><text x="1003.2" y="2321.9">0.6</text><text x="1003.2" y="2352.7">0.5</text><text x="1003.2" y="2383.4">0.4</text><text x="1003.2" y="2414.2">0.3</text><text x="1003.2" y="2445">0.2</text></g>
<g class="m"><text x="1021.7" y="2462">0.00</text><text x="1072.9" y="2462">0.01</text><text x="1124" y="2462">0.02</text><text x="1175.2" y="2462">0.03</text><text x="1226.3" y="2462">0.04</text><text x="1277.5" y="2462">0.05</text><text x="1151.5" y="2480">ppp</text></g>
<text class="m" transform="translate(971 2313.5) rotate(-90)">Pres. cross-corr coef.</text>

<!-- ================= PRESSURE SLICES (off 1700) ================= -->
<g transform="translate(0 1700)">
<text class="tt m" x="652" y="820">ppp=0.05</text>
<text class="tt m" x="347" y="889"><tspan font-style="italic">ε</tspan><tspan font-size="11.7" dy="3.5" font-style="italic">C</tspan><tspan font-size="8.5" dy="2.5" font-style="italic">p</tspan><tspan dy="-6"> slice: NIPA</tspan></text>
<text class="tt m" x="960" y="889"><tspan font-style="italic">ε</tspan><tspan font-size="11.7" dy="3.5" font-style="italic">C</tspan><tspan font-size="8.5" dy="2.5" font-style="italic">p</tspan><tspan dy="-6"> slice: RBC-PINN</tspan></text>
<svg x="206" y="898" width="282" height="281" viewBox="0 0 282 281">
<rect x="0" y="0" width="282" height="281" fill="#42f2c8"/>
<g filter="url(#b10)">
<ellipse cx="240" cy="70" rx="45" ry="50" fill="#a0ff60"/>
<ellipse cx="35" cy="10" rx="45" ry="22" fill="#1060ff"/><ellipse cx="40" cy="2" rx="30" ry="10" fill="#0030d8"/>
<ellipse cx="28" cy="175" rx="28" ry="55" fill="#28a0ff"/>
<ellipse cx="36" cy="91" rx="14" ry="14" fill="#2078ff"/>
<ellipse cx="200" cy="25" rx="35" ry="35" fill="#ffa800"/><ellipse cx="205" cy="8" rx="25" ry="14" fill="#ff6a00"/>
<ellipse cx="192" cy="58" rx="12" ry="22" fill="#ffc800"/>
<ellipse cx="277" cy="20" rx="10" ry="25" fill="#0040d8"/>
<ellipse cx="277" cy="195" rx="9" ry="85" fill="#20a0ff"/>
<ellipse cx="100" cy="245" rx="35" ry="14" fill="#38a8ff"/>
<ellipse cx="200" cy="128" rx="28" ry="9" fill="#38b0ff"/>
<ellipse cx="150" cy="270" rx="40" ry="10" fill="#38c8ff"/>
</g>
<g filter="url(#b4)">
<ellipse cx="44" cy="136" rx="15" ry="18" fill="#ffb000"/><ellipse cx="44" cy="136" rx="9" ry="11" fill="#c00000"/>
<ellipse cx="223" cy="109" rx="17" ry="10" fill="#ffa800"/><ellipse cx="223" cy="109" rx="9" ry="5" fill="#ff3000"/>
<ellipse cx="40" cy="224" rx="6" ry="8" fill="#d00000"/>
<ellipse cx="48" cy="205" rx="9" ry="16" fill="#0020c8"/>
<ellipse cx="23" cy="158" rx="9" ry="11" fill="#0030d8"/>
<ellipse cx="36" cy="262" rx="9" ry="13" fill="#1050ff"/>
<ellipse cx="94" cy="238" rx="9" ry="8" fill="#1040e8"/>
<ellipse cx="181" cy="211" rx="6" ry="14" fill="#f0ff20"/>
<ellipse cx="52" cy="58" rx="5" ry="10" fill="#e8ff20"/>
<ellipse cx="265" cy="44" rx="8" ry="8" fill="#e0ff30"/>
<ellipse cx="136" cy="131" rx="8" ry="13" fill="#30a0ff"/>
<ellipse cx="115" cy="178" rx="7" ry="11" fill="#30a0ff"/>
<ellipse cx="86" cy="68" rx="6" ry="8" fill="#3068ff"/>
<ellipse cx="2" cy="165" rx="4" ry="15" fill="#ffd000"/>
</g>
</svg>
<svg x="819" y="898" width="282" height="281" viewBox="0 0 282 281">
<rect x="0" y="0" width="282" height="281" fill="#46fdbc"/>
<g filter="url(#b10)">
<ellipse cx="115" cy="80" rx="20" ry="35" fill="#34d4f4"/>
<ellipse cx="207" cy="125" rx="24" ry="12" fill="#30c4fa"/>
<ellipse cx="107" cy="241" rx="22" ry="22" fill="#32c8f6"/>
<ellipse cx="40" cy="201" rx="12" ry="16" fill="#30c4fa"/>
<ellipse cx="24" cy="138" rx="12" ry="16" fill="#c4ff40"/>
<ellipse cx="265" cy="58" rx="14" ry="30" fill="#94ff6c"/>
<ellipse cx="150" cy="180" rx="15" ry="30" fill="#38d8f0"/>
<ellipse cx="180" cy="20" rx="40" ry="12" fill="#70ff90"/>
</g>
</svg>
<rect class="sp" x="206" y="898" width="282" height="281"/>
<rect class="sp" x="819" y="898" width="282" height="281"/>
<path class="tk" d="M201.1 951H206M201.1 1008H206M201.1 1065H206M201.1 1121H206M201.1 1178H206M814.1 951H819M814.1 1008H819M814.1 1065H819M814.1 1121H819M814.1 1178H819M207 1179V1183.9M264.5 1179V1183.9M322 1179V1183.9M379 1179V1183.9M436 1179V1183.9M820 1179V1183.9M877.5 1179V1183.9M935 1179V1183.9M992 1179V1183.9M1049 1179V1183.9"/>
<g class="e"><text x="196.2" y="956">162</text><text x="196.2" y="1013">122</text><text x="196.2" y="1070">82</text><text x="196.2" y="1126">42</text><text x="196.2" y="1183">2</text>
<text x="809.2" y="956">162</text><text x="809.2" y="1013">122</text><text x="809.2" y="1070">82</text><text x="809.2" y="1126">42</text><text x="809.2" y="1183">2</text></g>
<g class="m"><text x="207" y="1199">2</text><text x="264.5" y="1199">42</text><text x="322" y="1199">82</text><text x="379" y="1199">122</text><text x="436" y="1199">162</text>
<text x="820" y="1199">2</text><text x="877.5" y="1199">42</text><text x="935" y="1199">82</text><text x="992" y="1199">122</text><text x="1049" y="1199">162</text>
<text x="347" y="1218">X [mm]</text><text x="960" y="1218">X [mm]</text></g>
<text class="m" transform="translate(158 1038.5) rotate(-90)">Y [mm]</text>
<text class="m" transform="translate(771 1038.5) rotate(-90)">Y [mm]</text>
<rect x="1113" y="913" width="27" height="225" fill="url(#jet)" stroke="#000" stroke-width="1.1"/>
<path class="tk" d="M1140 940H1144.9M1140 970.2H1144.9M1140 1000.4H1144.9M1140 1030.5H1144.9M1140 1060.7H1144.9M1140 1090.9H1144.9M1140 1121H1144.9"/>
<g><text x="1149.8" y="945">0.0100</text><text x="1149.8" y="975.2">0.0075</text><text x="1149.8" y="1005.4">0.0050</text><text x="1149.8" y="1035.5">0.0025</text><text x="1149.8" y="1065.7">0.0000</text><text x="1149.8" y="1095.9">−0.0025</text><text x="1149.8" y="1126">−0.0050</text></g>
<text class="m" transform="translate(1225 1025.5) rotate(-90)">[<tspan font-style="italic">C</tspan><tspan font-size="9.7" dy="2.5" font-style="italic">p</tspan><tspan dy="-2.5">]</tspan></text>
</g>

<!-- ================= TEMPERATURE ================= -->
<text class="tt m" x="653" y="2972">=============== Temperature ====================</text>
<rect class="lg" x="240" y="3001" width="894" height="25" rx="3"/>
<path class="lb" d="M246 3013.5H274"/><path class="mb" d="M255.85 3009.35h8.3v8.3h-8.3z"/><text x="285" y="3018.5">NIPA</text>
<path class="lo" d="M1023 3013.5H1051"/><path class="mo" d="M1032.85 3009.35h8.3v8.3h-8.3z"/><text x="1062" y="3018.5">RBC-PINN</text>

<!-- T1 -->
<path class="g" d="M92.5 3035V3292M147.8 3035V3292M203.2 3035V3292M258.5 3035V3292M313.9 3035V3292M369.2 3035V3292M84 3062.3H383M84 3099.3H383M84 3136.3H383M84 3173.3H383M84 3210.3H383M84 3247.3H383M84 3284.3H383"/>
<path class="lb" d="M98 3280L147.8 3047.3L369.2 3103.3"/>
<path class="lo" d="M98 3064.3L147.8 3066L369.2 3060.3"/>
<path class="mb" d="M93.85 3275.85h8.3v8.3h-8.3zM143.65 3043.15h8.3v8.3h-8.3zM365.05 3099.15h8.3v8.3h-8.3z"/>
<path class="mo" d="M93.85 3060.15h8.3v8.3h-8.3zM143.65 3061.85h8.3v8.3h-8.3zM365.05 3056.15h8.3v8.3h-8.3z"/>
<rect class="sp" x="84" y="3035" width="299" height="257"/>
<path class="tk" d="M79.1 3062.3H84M79.1 3099.3H84M79.1 3136.3H84M79.1 3173.3H84M79.1 3210.3H84M79.1 3247.3H84M79.1 3284.3H84M383 3062.3H387.9M383 3099.3H387.9M383 3136.3H387.9M383 3173.3H387.9M383 3210.3H387.9M383 3247.3H387.9M383 3284.3H387.9M92.5 3292V3296.9M147.8 3292V3296.9M203.2 3292V3296.9M258.5 3292V3296.9M313.9 3292V3296.9M369.2 3292V3296.9"/>
<g class="e"><text x="74.2" y="3067.3">0</text><text x="74.2" y="3104.3">-0.65</text><text x="74.2" y="3141.3">-1.3</text><text x="74.2" y="3178.3">-2</text><text x="74.2" y="3215.3">-2.6</text><text x="74.2" y="3252.3">-3.2</text><text x="74.2" y="3289.3">-3.9</text></g>
<g><text x="392.8" y="3067.3">0.00</text><text x="392.8" y="3104.3">−0.05</text><text x="392.8" y="3141.3">−0.10</text><text x="392.8" y="3178.3">−0.15</text><text x="392.8" y="3215.3">−0.20</text><text x="392.8" y="3252.3">−0.25</text><text x="392.8" y="3289.3">−0.30</text></g>
<g class="m"><text x="92.5" y="3312">0.00</text><text x="147.8" y="3312">0.01</text><text x="203.2" y="3312">0.02</text><text x="258.5" y="3312">0.03</text><text x="313.9" y="3312">0.04</text><text x="369.2" y="3312">0.05</text><text x="233.5" y="3330">ppp</text></g>
<text class="m" transform="translate(25 3163.5) rotate(-90)">Temp. bias error [<tspan font-style="italic">K</tspan>]</text>
<text class="m" transform="translate(452 3163.5) rotate(-90)">Temp. bias error [<tspan font-style="italic">K</tspan>]</text>

<!-- T2 -->
<path class="g" d="M546.7 3035V3292M601.9 3035V3292M657 3035V3292M712.2 3035V3292M767.3 3035V3292M822.5 3035V3292M538 3056.3H837M538 3095.7H837M538 3135.1H837M538 3174.5H837M538 3213.9H837M538 3253.3H837"/>
<path class="lb" d="M552.2 3047.3L601.9 3263.3L822.5 3257.3"/>
<path class="lo" d="M552.2 3139.3L601.9 3245L822.5 3280"/>
<path class="mb" d="M548.05 3043.15h8.3v8.3h-8.3zM597.75 3259.15h8.3v8.3h-8.3zM818.35 3253.15h8.3v8.3h-8.3z"/>
<path class="mo" d="M548.05 3135.15h8.3v8.3h-8.3zM597.75 3240.85h8.3v8.3h-8.3zM818.35 3275.85h8.3v8.3h-8.3z"/>
<rect class="sp" x="538" y="3035" width="299" height="257"/>
<path class="tk" d="M533.1 3056.3H538M533.1 3095.7H538M533.1 3135.1H538M533.1 3174.5H538M533.1 3213.9H538M533.1 3253.3H538M837 3056.3H841.9M837 3095.7H841.9M837 3135.1H841.9M837 3174.5H841.9M837 3213.9H841.9M837 3253.3H841.9M546.7 3292V3296.9M601.9 3292V3296.9M657 3292V3296.9M712.2 3292V3296.9M767.3 3292V3296.9M822.5 3292V3296.9"/>
<g class="e"><text x="528.2" y="3061.3">0.71</text><text x="528.2" y="3100.7">0.65</text><text x="528.2" y="3140.1">0.58</text><text x="528.2" y="3179.5">0.52</text><text x="528.2" y="3218.9">0.46</text><text x="528.2" y="3258.3">0.39</text></g>
<g><text x="846.8" y="3061.3">0.055</text><text x="846.8" y="3100.7">0.050</text><text x="846.8" y="3140.1">0.045</text><text x="846.8" y="3179.5">0.040</text><text x="846.8" y="3218.9">0.035</text><text x="846.8" y="3258.3">0.030</text></g>
<g class="m"><text x="546.7" y="3312">0.00</text><text x="601.9" y="3312">0.01</text><text x="657" y="3312">0.02</text><text x="712.2" y="3312">0.03</text><text x="767.3" y="3312">0.04</text><text x="822.5" y="3312">0.05</text><text x="687.5" y="3330">ppp</text></g>
<text class="m" transform="translate(486 3163.5) rotate(-90)">Temp. random error [<tspan font-style="italic">K</tspan>]</text>
<text class="m" transform="translate(902 3163.5) rotate(-90)">Temp. random error [<tspan font-style="italic">K</tspan>]</text>

<!-- T3 -->
<path class="g" d="M1000 3035V3292M1055.2 3035V3292M1110.3 3035V3292M1165.5 3035V3292M1220.6 3035V3292M1275.8 3035V3292M992 3038.7H1290M992 3068.6H1290M992 3098.5H1290M992 3128.4H1290M992 3158.3H1290M992 3188.1H1290M992 3218H1290M992 3247.9H1290M992 3277.8H1290"/>
<path class="lb" d="M1005.5 3280L1055.2 3059.3L1275.8 3096"/>
<path class="lo" d="M1005.5 3058.7L1055.2 3050.3L1275.8 3047"/>
<path class="mb" d="M1001.35 3275.85h8.3v8.3h-8.3zM1051.05 3055.15h8.3v8.3h-8.3zM1271.65 3091.85h8.3v8.3h-8.3z"/>
<path class="mo" d="M1001.35 3054.55h8.3v8.3h-8.3zM1051.05 3046.15h8.3v8.3h-8.3zM1271.65 3042.85h8.3v8.3h-8.3z"/>
<rect class="sp" x="992" y="3035" width="298" height="257"/>
<path class="tk" d="M987.1 3038.7H992M987.1 3068.6H992M987.1 3098.5H992M987.1 3128.4H992M987.1 3158.3H992M987.1 3188.1H992M987.1 3218H992M987.1 3247.9H992M987.1 3277.8H992M1000 3292V3296.9M1055.2 3292V3296.9M1110.3 3292V3296.9M1165.5 3292V3296.9M1220.6 3292V3296.9M1275.8 3292V3296.9"/>
<g class="e"><text x="982.2" y="3043.7">1.0</text><text x="982.2" y="3073.6">0.9</text><text x="982.2" y="3103.5">0.8</text><text x="982.2" y="3133.4">0.7</text><text x="982.2" y="3163.3">0.6</text><text x="982.2" y="3193.1">0.5</text><text x="982.2" y="3223">0.4</text><text x="982.2" y="3252.9">0.3</text><text x="982.2" y="3282.8">0.2</text></g>
<g class="m"><text x="1000" y="3312">0.00</text><text x="1055.2" y="3312">0.01</text><text x="1110.3" y="3312">0.02</text><text x="1165.5" y="3312">0.03</text><text x="1220.6" y="3312">0.04</text><text x="1275.8" y="3312">0.05</text><text x="1141" y="3330">ppp</text></g>
<text class="m" transform="translate(950 3163.5) rotate(-90)">Temp. cross-corr coef.</text>

<!-- ================= TEMPERATURE SLICES (off 2550) ================= -->
<g transform="translate(0 2550)">
<text class="tt m" x="652" y="820">ppp=0.05</text>
<text class="tt m" x="347" y="889"><tspan font-style="italic">ε</tspan><tspan font-size="11.7" dy="3.5" font-style="italic">T</tspan><tspan dy="-3.5"> slice: NIPA</tspan></text>
<text class="tt m" x="960" y="889"><tspan font-style="italic">ε</tspan><tspan font-size="11.7" dy="3.5" font-style="italic">T</tspan><tspan dy="-3.5"> slice: RBC-PINN</tspan></text>
<svg x="206" y="898" width="282" height="281" viewBox="0 0 282 281">
<rect x="0" y="0" width="282" height="281" fill="#50fab8"/>
<g filter="url(#b10)">
<ellipse cx="60" cy="130" rx="45" ry="40" fill="#34f4d4"/>
<ellipse cx="180" cy="170" rx="40" ry="50" fill="#3cf2cc"/>
<ellipse cx="110" cy="25" rx="45" ry="15" fill="#90ff68"/>
<ellipse cx="160" cy="60" rx="14" ry="40" fill="#a8ff58"/>
<ellipse cx="125" cy="170" rx="14" ry="45" fill="#80ff80"/>
<ellipse cx="262" cy="8" rx="32" ry="14" fill="#0030d0"/>
<ellipse cx="279" cy="50" rx="6" ry="35" fill="#1070ff"/>
<ellipse cx="215" cy="243" rx="20" ry="15" fill="#2080ff"/>
<ellipse cx="276" cy="268" rx="12" ry="20" fill="#0040ff"/>
<ellipse cx="8" cy="272" rx="18" ry="14" fill="#0050ff"/>
<ellipse cx="100" cy="230" rx="20" ry="30" fill="#80ff80"/>
</g>
<g filter="url(#b4)">
<ellipse cx="12" cy="1" rx="26" ry="5" fill="#d00000"/>
<ellipse cx="86" cy="10" rx="12" ry="12" fill="#ff8c00"/>
<ellipse cx="3" cy="152" rx="5" ry="22" fill="#f0ff00"/>
<ellipse cx="48" cy="250" rx="6" ry="25" fill="#e8ff00"/>
<ellipse cx="62" cy="268" rx="9" ry="9" fill="#ff7000"/>
<ellipse cx="66" cy="276" rx="8" ry="6" fill="#c00000"/>
<ellipse cx="262" cy="4" rx="20" ry="8" fill="#0000a0"/>
</g>
</svg>
<svg x="819" y="898" width="282" height="281" viewBox="0 0 282 281">
<rect x="0" y="0" width="282" height="281" fill="#e4ff14"/>
<g filter="url(#b10)">
<ellipse cx="130" cy="22" rx="50" ry="22" fill="#ffbc00"/>
<ellipse cx="120" cy="160" rx="18" ry="40" fill="#ffd000"/>
<ellipse cx="215" cy="235" rx="28" ry="16" fill="#a0ff60"/>
<ellipse cx="160" cy="150" rx="18" ry="30" fill="#c8ff38"/>
<ellipse cx="60" cy="90" rx="20" ry="25" fill="#c8ff38"/>
<ellipse cx="265" cy="60" rx="12" ry="28" fill="#ffd000"/>
<ellipse cx="270" cy="200" rx="10" ry="40" fill="#ffe000"/>
</g>
<g filter="url(#b6)">
<ellipse cx="174" cy="82" rx="9" ry="26" fill="#ffb400"/>
<ellipse cx="220" cy="122" rx="14" ry="10" fill="#ffb400"/>
<ellipse cx="32" cy="125" rx="11" ry="12" fill="#ffb800"/>
<ellipse cx="49" cy="209" rx="13" ry="22" fill="#ffa800"/>
<ellipse cx="2" cy="150" rx="4" ry="30" fill="#ffb000"/>
</g>
</svg>
<rect class="sp" x="206" y="898" width="282" height="281"/>
<rect class="sp" x="819" y="898" width="282" height="281"/>
<path class="tk" d="M201.1 951H206M201.1 1008H206M201.1 1065H206M201.1 1121H206M201.1 1178H206M814.1 951H819M814.1 1008H819M814.1 1065H819M814.1 1121H819M814.1 1178H819M207 1179V1183.9M264.5 1179V1183.9M322 1179V1183.9M379 1179V1183.9M436 1179V1183.9M820 1179V1183.9M877.5 1179V1183.9M935 1179V1183.9M992 1179V1183.9M1049 1179V1183.9"/>
<g class="e"><text x="196.2" y="956">162</text><text x="196.2" y="1013">122</text><text x="196.2" y="1070">82</text><text x="196.2" y="1126">42</text><text x="196.2" y="1183">2</text>
<text x="809.2" y="956">162</text><text x="809.2" y="1013">122</text><text x="809.2" y="1070">82</text><text x="809.2" y="1126">42</text><text x="809.2" y="1183">2</text></g>
<g class="m"><text x="207" y="1199">2</text><text x="264.5" y="1199">42</text><text x="322" y="1199">82</text><text x="379" y="1199">122</text><text x="436" y="1199">162</text>
<text x="820" y="1199">2</text><text x="877.5" y="1199">42</text><text x="935" y="1199">82</text><text x="992" y="1199">122</text><text x="1049" y="1199">162</text>
<text x="347" y="1218">X [mm]</text><text x="960" y="1218">X [mm]</text></g>
<text class="m" transform="translate(158 1038.5) rotate(-90)">Y [mm]</text>
<text class="m" transform="translate(771 1038.5) rotate(-90)">Y [mm]</text>
<rect x="1113" y="913" width="27" height="225" fill="url(#jet)" stroke="#000" stroke-width="1.1"/>
<path class="tk" d="M1140 927.7H1144.9M1140 960.3H1144.9M1140 992.7H1144.9M1140 1025.7H1144.9M1140 1058.3H1144.9M1140 1091H1144.9M1140 1123.3H1144.9"/>
<g><text x="1149.8" y="932.7">0.10</text><text x="1149.8" y="965.3">0.05</text><text x="1149.8" y="997.7">0.00</text><text x="1149.8" y="1030.7">−0.05</text><text x="1149.8" y="1063.3">−0.10</text><text x="1149.8" y="1096">−0.15</text><text x="1149.8" y="1128.3">−0.20</text></g>
<text class="m" transform="translate(1208 1025.5) rotate(-90)">[Δ<tspan font-style="italic">T</tspan>]</text>
</g>
</svg>
</body></html>
